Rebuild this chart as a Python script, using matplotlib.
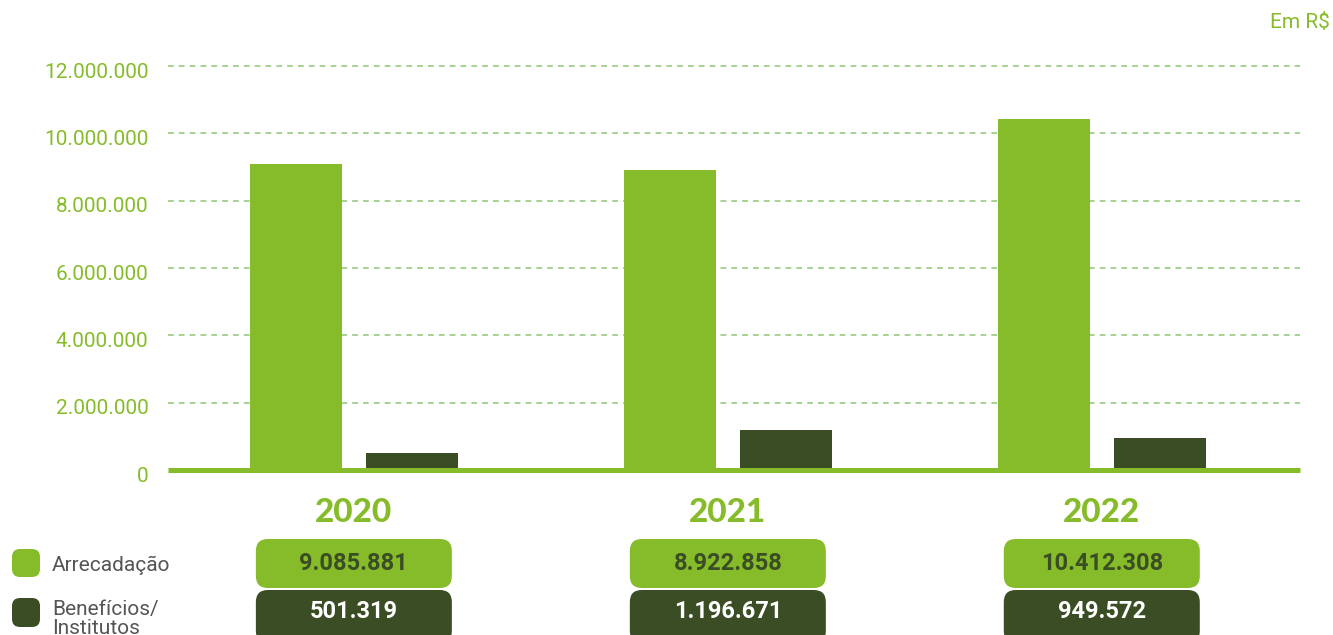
import matplotlib.pyplot as plt
from matplotlib.patches import FancyBboxPatch
from matplotlib.transforms import IdentityTransform, ScaledTranslation
import numpy as np

anos = ["2020", "2021", "2022"]
arrecadacao = [9085881, 8922858, 10412308]
beneficios = [501319, 1196671, 949572]
yticks = [0, 2000000, 4000000, 6000000, 8000000, 10000000, 12000000]

VERDE = "#86bc29"
ESCURO = "#3a4d24"
GRADE = "#9fcf8a"
CINZA = "#555555"

W, H = 1333, 635


def fmt(v):
    return f"{v:,}".replace(",", ".")


plt.rcParams["font.family"] = ["Roboto", "DejaVu Sans"]

fig = plt.figure(figsize=(W / 100, H / 100), dpi=100)
ax = fig.add_axes([168 / W, (H - 470) / H, (1300 - 168) / W, 420.8 / H])

x = np.arange(len(anos))
ax.bar(x - 0.155, arrecadacao, 0.246, color=VERDE, zorder=2)
ax.bar(x + 0.155, beneficios, 0.246, color=ESCURO, zorder=2)
ax.set_xlim(-0.497, 2.53)
ax.set_ylim(0, 12.5e6)

for y in yticks[1:]:
    ax.axhline(y, color=GRADE, lw=1.3, ls=(0, (3.2, 2.8)), zorder=1)
ax.axhline(0, color=VERDE, lw=3.6, zorder=3, clip_on=False,
           solid_capstyle="butt")

for s in ax.spines.values():
    s.set_visible(False)
ax.set_xticks([])
ax.set_yticks(yticks, [fmt(v) for v in yticks])
ax.tick_params(axis="y", length=0, pad=14, labelcolor=VERDE, labelsize=15)
desce = ScaledTranslation(0, -3 / 72, fig.dpi_scale_trans)
for lbl in ax.get_yticklabels():
    lbl.set_transform(lbl.get_transform() + desce)

fig.text(1330 / W, 1 - 22 / H, "Em R$", color=VERDE, fontsize=15,
         ha="right", va="center")

ident = IdentityTransform()
for i, ano in enumerate(anos):
    cx = ax.transData.transform((x[i], 0))[0]
    fig.text(cx / W, 1 - 512 / H, ano, color=VERDE, fontsize=24,
             fontweight="black", family=["Lato", "DejaVu Sans"],
             ha="center", va="center")
    caixa1 = FancyBboxPatch((cx - 98, 47), 196, 49,
                            boxstyle="round,pad=0,rounding_size=12",
                            transform=ident, fc=VERDE, ec="none")
    caixa2 = FancyBboxPatch((cx - 98, -8), 196, 53,
                            boxstyle="round,pad=0,rounding_size=12",
                            transform=ident, fc=ESCURO, ec="none")
    fig.add_artist(caixa1)
    fig.add_artist(caixa2)
    fig.text(cx / W, 72 / H, fmt(arrecadacao[i]), color=ESCURO, fontsize=17,
             fontweight="bold", ha="center", va="center")
    fig.text(cx / W, 23 / H, fmt(beneficios[i]), color="white", fontsize=17,
             fontweight="bold", ha="center", va="center")

# legenda
fig.add_artist(FancyBboxPatch((12, 58), 28, 28,
                              boxstyle="round,pad=0,rounding_size=8",
                              transform=ident, fc=VERDE, ec="none"))
fig.add_artist(FancyBboxPatch((12, 8), 28, 29,
                              boxstyle="round,pad=0,rounding_size=8",
                              transform=ident, fc=ESCURO, ec="none"))
fig.text(52 / W, 70 / H, "Arrecadação", color=CINZA, fontsize=15,
         ha="left", va="center")
fig.text(52 / W, 16.5 / H, "Benefícios/\nInstitutos", color=CINZA,
         fontsize=15, ha="left", va="center", linespacing=1.0)

fig.savefig("out.png", dpi=100)
